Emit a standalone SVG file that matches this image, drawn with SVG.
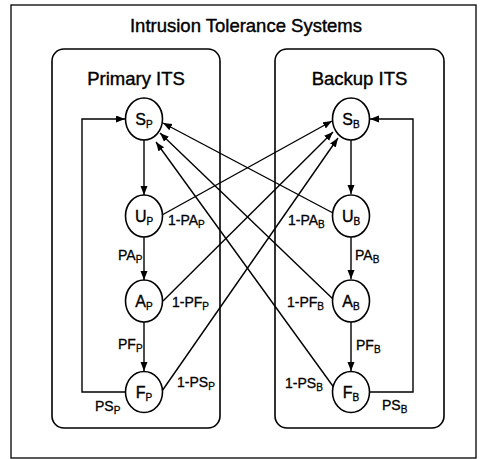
<svg xmlns="http://www.w3.org/2000/svg" width="485" height="459" viewBox="0 0 485 459">
<style>
.frame{fill:none;stroke:#000;stroke-width:1.3}
.box{fill:none;stroke:#000;stroke-width:1.6}
.node ellipse{fill:#fff;stroke:#000;stroke-width:1.6}
.nl{font-family:"Liberation Sans",Arial,sans-serif;font-size:16px;fill:#000;stroke:#000;stroke-width:0.35;text-anchor:middle}
.lb{font-family:"Liberation Sans",Arial,sans-serif;font-size:14px;fill:#000;stroke:#000;stroke-width:0.3}
.sub{font-size:10px}
.ttl{font-family:"Liberation Sans",Arial,sans-serif;font-size:18.5px;fill:#000;stroke:#000;stroke-width:0.4;text-anchor:middle}
.ed{fill:none;stroke:#000;stroke-width:1.4}
</style>
<defs>
<marker id="ah" markerUnits="userSpaceOnUse" markerWidth="10" markerHeight="8" refX="9" refY="3.5" orient="auto">
<path d="M0,0 L9,3.5 L0,7 z" fill="#000"/>
</marker>
</defs>
<rect width="485" height="459" fill="#fff"/>
<g id="frame">
<rect class="frame" x="11" y="5" width="465" height="453"/>
<text class="ttl" x="246" y="32">Intrusion Tolerance Systems</text>
</g>
<g id="primary">
<rect class="box" x="52" y="49" width="168" height="379" rx="12"/>
<text class="ttl" x="136" y="85" font-size="18">Primary ITS</text>
</g>
<g id="backup">
<rect class="box" x="275" y="49" width="169" height="379" rx="12"/>
<text class="ttl" x="359.5" y="85" font-size="18">Backup ITS</text>
</g>
<g id="connectors">
<line class="ed" x1="144" y1="140" x2="144" y2="195" marker-end="url(#ah)"/>
<line class="ed" x1="144" y1="237" x2="144" y2="280" marker-end="url(#ah)"/>
<line class="ed" x1="144" y1="322" x2="144" y2="371" marker-end="url(#ah)"/>
<line class="ed" x1="351" y1="140" x2="351" y2="194" marker-end="url(#ah)"/>
<line class="ed" x1="351" y1="237" x2="351" y2="279" marker-end="url(#ah)"/>
<line class="ed" x1="351" y1="322" x2="351" y2="371" marker-end="url(#ah)"/>
<polyline class="ed" points="126,392 82,392 82,119 125,119" marker-end="url(#ah)"/>
<polyline class="ed" points="370,392 413,392 413,119 370,119" marker-end="url(#ah)"/>
<line class="ed" x1="162" y1="215" x2="332" y2="121" marker-end="url(#ah)"/>
<line class="ed" x1="163" y1="301" x2="333" y2="132" marker-end="url(#ah)"/>
<line class="ed" x1="162" y1="391" x2="338" y2="138" marker-end="url(#ah)"/>
<line class="ed" x1="333" y1="213" x2="163" y2="123" marker-end="url(#ah)"/>
<line class="ed" x1="334" y1="300" x2="160" y2="133" marker-end="url(#ah)"/>
<line class="ed" x1="335" y1="389" x2="156" y2="142" marker-end="url(#ah)"/>
<text class="lb" x="168" y="225">1-PA<tspan class="sub" dy="3">P</tspan></text>
<text class="lb" x="118" y="260">PA<tspan class="sub" dy="3">P</tspan></text>
<text class="lb" x="172" y="307">1-PF<tspan class="sub" dy="3">P</tspan></text>
<text class="lb" x="118" y="349">PF<tspan class="sub" dy="3">P</tspan></text>
<text class="lb" x="177" y="387">1-PS<tspan class="sub" dy="3">P</tspan></text>
<text class="lb" x="95" y="411">PS<tspan class="sub" dy="3">P</tspan></text>
<text class="lb" x="288" y="225">1-PA<tspan class="sub" dy="3">B</tspan></text>
<text class="lb" x="355" y="260">PA<tspan class="sub" dy="3">B</tspan></text>
<text class="lb" x="287" y="307">1-PF<tspan class="sub" dy="3">B</tspan></text>
<text class="lb" x="356" y="350">PF<tspan class="sub" dy="3">B</tspan></text>
<text class="lb" x="285" y="388">1-PS<tspan class="sub" dy="3">B</tspan></text>
<text class="lb" x="382" y="410">PS<tspan class="sub" dy="3">B</tspan></text>
</g>
<g id="SP" class="node"><ellipse cx="144" cy="119" rx="18.5" ry="21"/><text class="nl" x="144" y="125">S<tspan class="sub" dy="3">P</tspan></text></g>
<g id="UP" class="node"><ellipse cx="144" cy="216" rx="18.5" ry="21"/><text class="nl" x="144" y="222">U<tspan class="sub" dy="3">P</tspan></text></g>
<g id="AP" class="node"><ellipse cx="144" cy="301" rx="18.5" ry="21"/><text class="nl" x="144" y="307">A<tspan class="sub" dy="3">P</tspan></text></g>
<g id="FP" class="node"><ellipse cx="144" cy="392" rx="18.5" ry="20.5"/><text class="nl" x="144" y="398">F<tspan class="sub" dy="3">P</tspan></text></g>
<g id="SB" class="node"><ellipse cx="351" cy="119" rx="18.5" ry="21"/><text class="nl" x="351" y="125">S<tspan class="sub" dy="3">B</tspan></text></g>
<g id="UB" class="node"><ellipse cx="351" cy="216" rx="18.5" ry="21"/><text class="nl" x="351" y="222">U<tspan class="sub" dy="3">B</tspan></text></g>
<g id="AB" class="node"><ellipse cx="351" cy="301" rx="18.5" ry="21"/><text class="nl" x="351" y="307">A<tspan class="sub" dy="3">B</tspan></text></g>
<g id="FB" class="node"><ellipse cx="351" cy="392" rx="18.5" ry="20.5"/><text class="nl" x="351" y="398">F<tspan class="sub" dy="3">B</tspan></text></g>
</svg>
